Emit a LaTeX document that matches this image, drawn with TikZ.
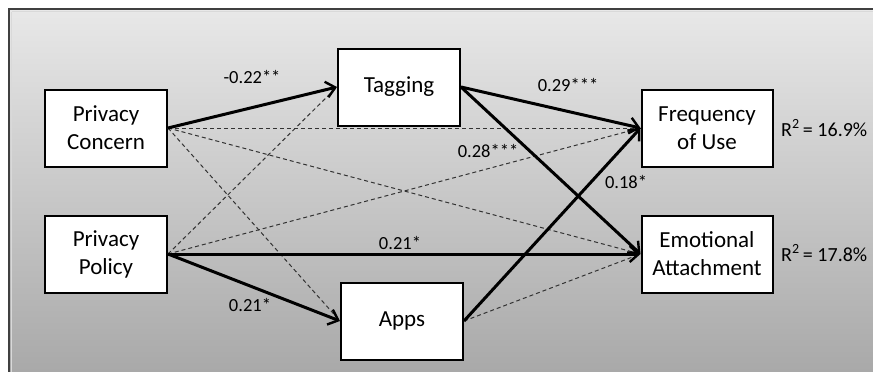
\documentclass[tikz,border=0pt]{standalone}
\usepackage{fontspec}
\setmainfont{Carlito}
\usetikzlibrary{arrows.meta}

\begin{document}
\begin{tikzpicture}[
      x=1pt, y=-1pt,
      box/.style={draw, line width=2pt, fill=white, align=center, minimum width=122pt, minimum height=77pt, font=\fontsize{23}{28}\selectfont},
      wbox/.style={box, minimum width=131pt},
      sig/.style={line width=3pt, -{Straight Barb[length=9pt,width=16pt,line width=2.4pt]}},
      ns/.style={line width=1pt, dash pattern=on 4pt off 3pt, draw=black!80},
      lbl/.style={font=\fontsize{18.5}{22}\selectfont, inner sep=1pt},
      rsq/.style={font=\fontsize{20}{24}\selectfont, anchor=west, inner sep=0pt}
    ]
    \useasboundingbox (0,0) rectangle (873,372);

    % ---- panel background ----
    \begin{scope}
      \clip (0,0) rectangle (873,372);
      \shade[top color=gray!18, bottom color=gray!70, draw=black!75, line width=2pt]
        (9,9) rectangle (890,390);
      \draw[white!85!black, line width=0.8pt] (11.5,11.5) -- (890,11.5);
      \draw[white!85!black, line width=0.8pt] (11.5,11.5) -- (11.5,390);
    \end{scope}

    % ---- constructs ----
    \node[box]  (conc) at (106,128) {Privacy\\Concern};
    \node[box]  (pol)  at (106,254) {Privacy\\Policy};
    \node[box]  (tag)  at (399,87)  {Tagging};
    \node[box]  (apps) at (402,321) {Apps};
    \node[wbox] (freq) at (707,128) {Frequency\\of Use};
    \node[wbox] (emo)  at (707,254) {Emotional\\Attachment};

    % ---- non-significant paths ----
    \draw[ns] (conc.east) -- (freq.west);
    \draw[ns] (conc.east) -- (emo.west);
    \draw[ns] (conc.east) -- (apps.west);
    \draw[ns] (pol.east) -- (tag.west);
    \draw[ns] (pol.east) -- (freq.west);
    \draw[ns] (apps.east) -- (emo.west);

    % ---- significant paths ----
    \draw[sig] (conc.east) -- (tag.west);
    \draw[sig] (pol.east) -- (apps.west);
    \draw[sig] (pol.east) -- (emo.west);
    \draw[sig] (tag.east) -- (freq.west);
    \draw[sig] (tag.east) -- (emo.west);
    \draw[sig] (apps.east) -- (freq.west);

    % ---- coefficients ----
    \node[lbl] (bconc) at (252,77)  {-0.22**};
    \node[lbl] (bpol)  at (250,305) {0.21*};
    \node[lbl] (bdir)  at (400,243) {0.21*};
    \node[lbl] (bfreq) at (568,85)  {0.29***};
    \node[lbl] (bemo)  at (488,151) {0.28***};
    \node[lbl] (bapps) at (626,182) {0.18*};

    % ---- explained variance ----
    \node[rsq] (rfreq) at (781,128) {R\textsuperscript{2}\,= 16.9\%};
    \node[rsq] (remo)  at (781,253) {R\textsuperscript{2}\,= 17.8\%};

\end{tikzpicture}
\end{document}
